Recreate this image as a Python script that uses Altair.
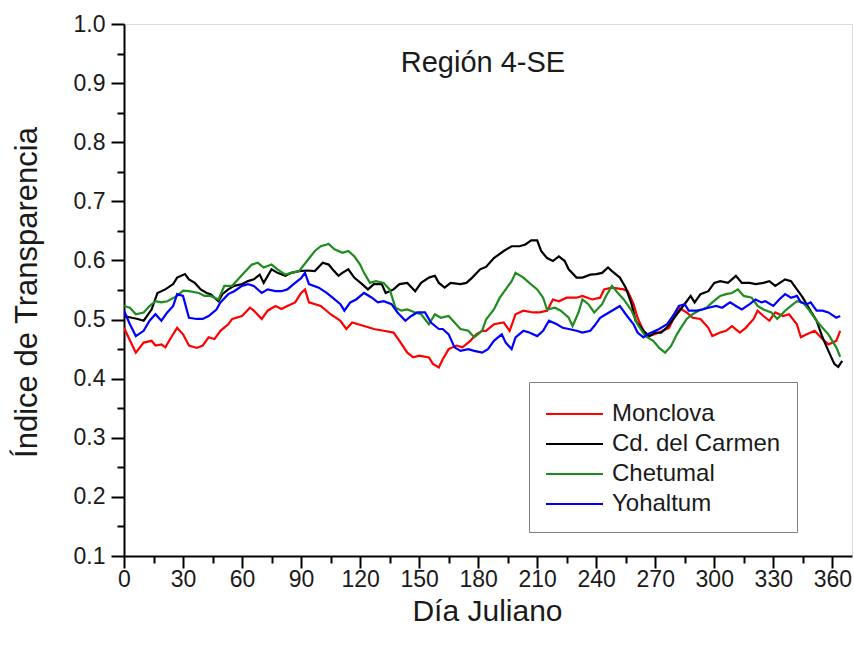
import altair as alt
import pandas as pd

# ---- series: Julian day and transparency index ----
monclova_day = [0, 6, 10, 14, 16, 19, 21, 24, 27, 30, 33, 37, 40, 43, 46, 49, 53, 55, 60, 64,
                66, 70, 73, 77, 80, 83, 87, 90, 92, 94, 100, 105, 110, 113, 116, 122, 127, 132, 137, 140,
                144, 147, 150, 155, 157, 160, 162, 165, 169, 172, 176, 179, 182, 184, 188, 193, 196, 199, 203, 208,
                211, 215, 218, 221, 225, 230, 233, 238, 242, 244, 248, 254, 256, 259, 261, 264, 266, 272, 277, 282,
                286, 289, 293, 297, 299, 303, 306, 309, 313, 316, 320, 322, 325, 328, 331, 335, 338, 342, 344, 347,
                351, 355, 358, 362, 364]
monclova_val = [0.486, 0.444, 0.461, 0.464, 0.456, 0.458, 0.453, 0.470, 0.486, 0.475,
                0.456, 0.452, 0.456, 0.470, 0.467, 0.481, 0.492, 0.501, 0.506, 0.520,
                0.515, 0.501, 0.515, 0.523, 0.518, 0.523, 0.529, 0.545, 0.551, 0.529,
                0.523, 0.509, 0.498, 0.484, 0.495, 0.489, 0.484, 0.481, 0.478, 0.464,
                0.444, 0.436, 0.439, 0.436, 0.425, 0.419, 0.433, 0.450, 0.456, 0.453,
                0.464, 0.475, 0.481, 0.481, 0.492, 0.495, 0.481, 0.509, 0.515, 0.512,
                0.512, 0.515, 0.534, 0.531, 0.537, 0.537, 0.540, 0.534, 0.537, 0.551,
                0.554, 0.551, 0.548, 0.526, 0.503, 0.481, 0.471, 0.478, 0.486, 0.520,
                0.512, 0.503, 0.501, 0.486, 0.472, 0.478, 0.481, 0.489, 0.478, 0.486,
                0.501, 0.515, 0.506, 0.498, 0.512, 0.506, 0.509, 0.492, 0.470, 0.475,
                0.481, 0.467, 0.458, 0.464, 0.481]

carmen_day = [0, 4, 7, 10, 14, 17, 21, 25, 27, 31, 33, 36, 39, 42, 44, 48, 50, 53, 56, 60,
              63, 66, 69, 71, 75, 78, 82, 85, 89, 93, 97, 101, 104, 106, 109, 111, 114, 117, 121, 124,
              127, 131, 133, 137, 140, 144, 148, 151, 155, 158, 160, 163, 166, 171, 174, 177, 181, 184, 188, 193,
              197, 201, 204, 207, 210, 212, 215, 218, 221, 224, 226, 230, 233, 237, 240, 243, 246, 248, 252, 255,
              258, 260, 264, 267, 270, 273, 276, 281, 286, 288, 290, 293, 297, 300, 303, 307, 311, 314, 318, 321,
              325, 328, 331, 336, 339, 342, 345, 348, 352, 355, 358, 361, 363, 365]
carmen_val = [0.506, 0.503, 0.501, 0.498, 0.517, 0.545, 0.551, 0.560, 0.571, 0.577,
              0.568, 0.562, 0.551, 0.545, 0.543, 0.531, 0.543, 0.551, 0.557, 0.560,
              0.565, 0.568, 0.576, 0.562, 0.585, 0.579, 0.574, 0.579, 0.582, 0.583,
              0.582, 0.596, 0.593, 0.585, 0.574, 0.579, 0.585, 0.571, 0.560, 0.551,
              0.560, 0.560, 0.545, 0.551, 0.560, 0.562, 0.548, 0.562, 0.571, 0.574,
              0.562, 0.554, 0.562, 0.560, 0.562, 0.571, 0.585, 0.589, 0.604, 0.616,
              0.624, 0.624, 0.627, 0.634, 0.634, 0.616, 0.604, 0.599, 0.607, 0.599,
              0.585, 0.571, 0.571, 0.576, 0.577, 0.579, 0.588, 0.582, 0.571, 0.554,
              0.526, 0.498, 0.481, 0.472, 0.478, 0.478, 0.487, 0.509, 0.531, 0.540,
              0.529, 0.543, 0.548, 0.562, 0.565, 0.562, 0.574, 0.562, 0.562, 0.560,
              0.562, 0.565, 0.557, 0.568, 0.565, 0.551, 0.537, 0.520, 0.498, 0.470,
              0.447, 0.425, 0.420, 0.430]

chetumal_day = [0, 3, 6, 10, 13, 16, 19, 22, 27, 30, 33, 38, 41, 44, 48, 51, 55, 58, 61, 65,
                68, 71, 75, 78, 82, 85, 89, 93, 97, 100, 104, 107, 111, 114, 117, 120, 122, 125, 128, 132,
                135, 138, 141, 144, 148, 151, 155, 158, 161, 165, 168, 171, 175, 178, 182, 184, 188, 191, 194, 197,
                199, 203, 206, 210, 213, 215, 219, 222, 226, 228, 231, 233, 236, 239, 243, 245, 248, 251, 254, 258,
                261, 265, 269, 272, 275, 278, 281, 283, 286, 289, 292, 296, 299, 303, 306, 309, 312, 315, 319, 322,
                325, 329, 332, 336, 339, 342, 345, 348, 352, 355, 358, 362, 364]
chetumal_val = [0.523, 0.520, 0.509, 0.512, 0.523, 0.531, 0.529, 0.531, 0.540, 0.549,
                0.548, 0.545, 0.540, 0.540, 0.534, 0.557, 0.557, 0.568, 0.579, 0.593,
                0.596, 0.588, 0.593, 0.585, 0.576, 0.579, 0.582, 0.599, 0.616, 0.624,
                0.628, 0.619, 0.613, 0.616, 0.607, 0.593, 0.579, 0.562, 0.565, 0.562,
                0.551, 0.520, 0.515, 0.517, 0.512, 0.509, 0.492, 0.509, 0.503, 0.506,
                0.495, 0.484, 0.481, 0.470, 0.481, 0.500, 0.517, 0.537, 0.551, 0.565,
                0.579, 0.571, 0.562, 0.551, 0.537, 0.517, 0.520, 0.515, 0.503, 0.489,
                0.512, 0.534, 0.526, 0.512, 0.526, 0.540, 0.557, 0.545, 0.534, 0.515,
                0.492, 0.472, 0.464, 0.452, 0.444, 0.455, 0.475, 0.486, 0.501, 0.509,
                0.515, 0.520, 0.529, 0.540, 0.543, 0.545, 0.551, 0.540, 0.537, 0.523,
                0.517, 0.512, 0.501, 0.515, 0.523, 0.531, 0.529, 0.517, 0.498, 0.486,
                0.475, 0.453, 0.437]

yohaltum_day = [0, 3, 6, 10, 13, 16, 19, 22, 25, 27, 30, 33, 37, 40, 43, 47, 49, 53, 56, 60,
                63, 66, 70, 73, 77, 80, 83, 87, 90, 92, 94, 99, 103, 106, 110, 112, 115, 118, 122, 126,
                129, 132, 136, 139, 143, 146, 149, 153, 156, 160, 162, 165, 168, 171, 175, 178, 182, 185, 188, 192,
                194, 197, 199, 203, 206, 210, 213, 216, 220, 223, 226, 230, 233, 237, 239, 242, 245, 248, 252, 255,
                259, 261, 264, 266, 270, 272, 276, 279, 282, 285, 287, 291, 294, 297, 301, 304, 308, 311, 314, 318,
                321, 324, 326, 330, 333, 336, 339, 342, 344, 347, 349, 352, 355, 358, 362, 364]
yohaltum_val = [0.515, 0.492, 0.472, 0.481, 0.498, 0.509, 0.498, 0.512, 0.523, 0.543,
                0.540, 0.503, 0.501, 0.501, 0.506, 0.517, 0.529, 0.543, 0.548, 0.557,
                0.560, 0.557, 0.545, 0.551, 0.548, 0.548, 0.551, 0.562, 0.570, 0.579,
                0.560, 0.554, 0.545, 0.537, 0.526, 0.515, 0.529, 0.534, 0.545, 0.537,
                0.529, 0.531, 0.526, 0.512, 0.498, 0.506, 0.512, 0.512, 0.495, 0.484,
                0.484, 0.475, 0.453, 0.447, 0.450, 0.447, 0.444, 0.450, 0.464, 0.475,
                0.461, 0.450, 0.470, 0.481, 0.478, 0.472, 0.481, 0.498, 0.492, 0.486,
                0.484, 0.481, 0.478, 0.481, 0.489, 0.503, 0.509, 0.515, 0.523, 0.509,
                0.492, 0.478, 0.470, 0.475, 0.481, 0.484, 0.492, 0.506, 0.523, 0.526,
                0.515, 0.515, 0.517, 0.520, 0.523, 0.520, 0.529, 0.523, 0.517, 0.526,
                0.534, 0.529, 0.531, 0.523, 0.534, 0.543, 0.537, 0.540, 0.529, 0.526,
                0.529, 0.515, 0.515, 0.512, 0.503, 0.506]

stations = ["Monclova", "Cd. del Carmen", "Chetumal", "Yohaltum"]
colors = ["#ff0000", "#000000", "#1e8c1e", "#0000ff"]

x_ticks = [0, 30, 60, 90, 120, 150, 180, 210, 240, 270, 300, 330, 360]
x_minor = [15, 45, 75, 105, 135, 165, 195, 225, 255, 285, 315, 345]
y_ticks = [0.1, 0.2, 0.3, 0.4, 0.5, 0.6, 0.7, 0.8, 0.9, 1.0]
y_minor = [0.15, 0.25, 0.35, 0.45, 0.55, 0.65, 0.75, 0.85, 0.95]

series = [
    (stations[0], monclova_day, monclova_val),
    (stations[1], carmen_day, carmen_val),
    (stations[2], chetumal_day, chetumal_val),
    (stations[3], yohaltum_day, yohaltum_val),
]
df = pd.concat(
    [pd.DataFrame({"dia": d, "indice": v, "estacion": name}) for name, d, v in series],
    ignore_index=True,
)

FONT = "Liberation Sans"
INK = "#1a1a1a"

x_scale = alt.Scale(domain=[0, 370], nice=False, zero=False)
y_scale = alt.Scale(domain=[0.1, 1.0], nice=False, zero=False)

x_main = alt.X(
    "dia:Q", scale=x_scale,
    axis=alt.Axis(
        values=x_ticks, format="d", orient="bottom", grid=False,
        tickSize=12, tickWidth=2, domainWidth=2, domainColor="black", tickColor="black",
        labelFont=FONT, labelFontSize=23, labelColor=INK, labelPadding=0,
        labelFlush=False, labelOverlap=False,
        title="Día Juliano", titleFont=FONT, titleFontSize=30, titleFontWeight="normal",
        titleColor=INK, titleX=363, titleY=55, titleAlign="center", titleBaseline="middle",
    ),
)
y_main = alt.Y(
    "indice:Q", scale=y_scale,
    axis=alt.Axis(
        values=y_ticks, format=".1f", orient="left", grid=False,
        tickSize=13, tickWidth=2, domainWidth=2, domainColor="black", tickColor="black",
        labelFont=FONT, labelFontSize=23, labelColor=INK, labelPadding=6,
        labelFlush=False, labelOverlap=False,
        title="Índice de Transparencia", titleFont=FONT, titleFontSize=31, titleFontWeight="normal",
        titleColor=INK, titleX=-97, titleY=268, titleAngle=270,
        titleAlign="center", titleBaseline="middle",
    ),
)
color = alt.Color(
    "estacion:N",
    scale=alt.Scale(domain=stations, range=colors),
    legend=alt.Legend(
        title=None, orient="none", legendX=405, legendY=358, direction="vertical",
        # short horizontal stroke, drawn to the right of its slot
        symbolType="M-1,0H2.8", symbolSize=900, symbolStrokeWidth=2,
        labelFont=FONT, labelFontSize=24, labelColor=INK, labelOffset=35, labelLimit=300,
        rowPadding=2, padding=16, strokeColor="#808080", fillColor="white",
    ),
)

# one layer per station so later stations are drawn on top
lines = alt.layer(*[
    alt.Chart(df).transform_filter(alt.datum.estacion == name)
    .mark_line(strokeWidth=2.2, clip=True)
    .encode(x=x_main, y=y_main, color=color, order="dia:Q")
    for name in stations
])

# second set of axes carrying only the minor ticks
minor = alt.Chart(df).mark_point(opacity=0).encode(
    x=alt.X("dia:Q", scale=x_scale, axis=alt.Axis(
        values=x_minor, orient="bottom", labels=False, domain=False, grid=False,
        tickSize=7, tickWidth=2, tickColor="black", title="")),
    y=alt.Y("indice:Q", scale=y_scale, axis=alt.Axis(
        values=y_minor, orient="left", labels=False, domain=False, grid=False,
        tickSize=7, tickWidth=2, tickColor="black", title="")),
)

heading = alt.Chart(pd.DataFrame({"t": ["Región 4-SE"]})).mark_text(
    font=FONT, fontSize=29, color=INK, align="center", baseline="middle"
).encode(x=alt.value(359), y=alt.value(39), text="t:N")

chart = (
    alt.layer(lines, minor, heading)
    .resolve_axis(x="independent", y="independent")
    .properties(
        width=728, height=532,
        autosize=alt.AutoSizeParams(type="none"),
        padding={"left": 124, "top": 24, "right": 2, "bottom": 92},
    )
    .configure_view(stroke=None)
    .configure(background="white")
)

chart.save("out.html", embed_options={"renderer": "svg", "actions": False})
